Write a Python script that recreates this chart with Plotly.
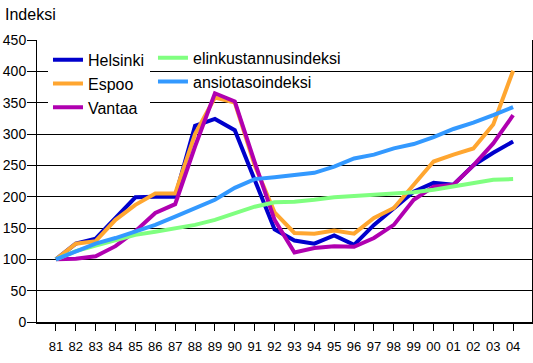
import plotly.graph_objects as go

years = ["81","82","83","84","85","86","87","88","89","90","91","92",
         "93","94","95","96","97","98","99","00","01","02","03","04"]

helsinki = [100,125,133,165,199,200,200,313,324,306,225,148,
            130,125,138,123,155,182,208,222,219,250,270,288]
espoo = [100,125,129,163,187,205,205,300,358,350,250,175,
         142,141,146,141,166,182,219,256,267,277,315,401]
vantaa = [100,101,105,121,145,174,188,280,365,352,255,163,
          111,118,121,120,134,155,195,216,219,250,285,330]
elinkustannus = [100,113,122,131,139,144,150,155,163,174,184,191,
                 192,195,199,201,203,206,207,211,216,222,227,228]
ansiotaso = [100,112,125,134,145,155,168,182,195,214,228,231,
             235,238,248,261,267,277,284,295,308,318,330,343]

FONT = "Liberation Sans, Arial, sans-serif"

series = [
    ("Helsinki", helsinki, "#0000CC", "legend"),
    ("Espoo", espoo, "#FFA630", "legend"),
    ("Vantaa", vantaa, "#B000B0", "legend"),
    ("elinkustannusindeksi", elinkustannus, "#80FF80", "legend2"),
    ("ansiotasoindeksi", ansiotaso, "#3399FF", "legend2"),
]

fig = go.Figure()
for name, vals, col, lg in series:
    fig.add_trace(go.Scatter(x=years, y=vals, name=name, mode="lines",
                             line=dict(color=col, width=4), legend=lg,
                             hoverinfo="skip"))

fig.update_layout(
    width=533, height=363,
    margin=dict(l=37, r=1, t=40, b=40.5, pad=0, autoexpand=False),
    paper_bgcolor="white", plot_bgcolor="white",
    font=dict(family=FONT, color="black"),
    legend=dict(x=0.0222, y=0.99, xanchor="left", yanchor="top",
                bgcolor="white", borderwidth=0, font=dict(size=16),
                tracegroupgap=0),
    legend2=dict(x=0.2343, y=0.997, xanchor="left", yanchor="top",
                 bgcolor="rgba(0,0,0,0)", borderwidth=0, font=dict(size=16),
                 tracegroupgap=0),
    xaxis=dict(type="category", range=[-0.95, 23.95], showgrid=False,
               showline=True, linecolor="black", linewidth=2,
               ticks="outside", ticklen=7, tickcolor="black", automargin=False,
               tickfont=dict(size=13), ticklabelstandoff=4, zeroline=False),
    yaxis=dict(range=[0, 450], tickvals=list(range(0, 451, 50)),
               showgrid=True, gridcolor="black", gridwidth=1, automargin=False,
               showline=True, linecolor="black", linewidth=1, mirror=True,
               ticks="outside", ticklen=9, tickcolor="black",
               tickfont=dict(size=14), ticklabelstandoff=-2, zeroline=False),
    shapes=[dict(type="rect", xref="paper", yref="paper",
                 x0=(157 - 37) / 495, x1=(356 - 37) / 495,
                 y0=(322.5 - 88) / 282.5, y1=(322.5 - 45) / 282.5,
                 fillcolor="white", line=dict(width=0), layer="between")],
    annotations=[dict(text="Indeksi", xref="paper", yref="paper",
                      x=(3 - 37) / 495, y=(322.5 - 14) / 282.5,
                      xanchor="left", yanchor="middle", showarrow=False,
                      font=dict(size=16))],
)

fig.write_html("out.html",
               config={"displayModeBar": False},
               post_script="document.body.style.margin='0';"
                           "document.body.style.overflow='hidden';")
